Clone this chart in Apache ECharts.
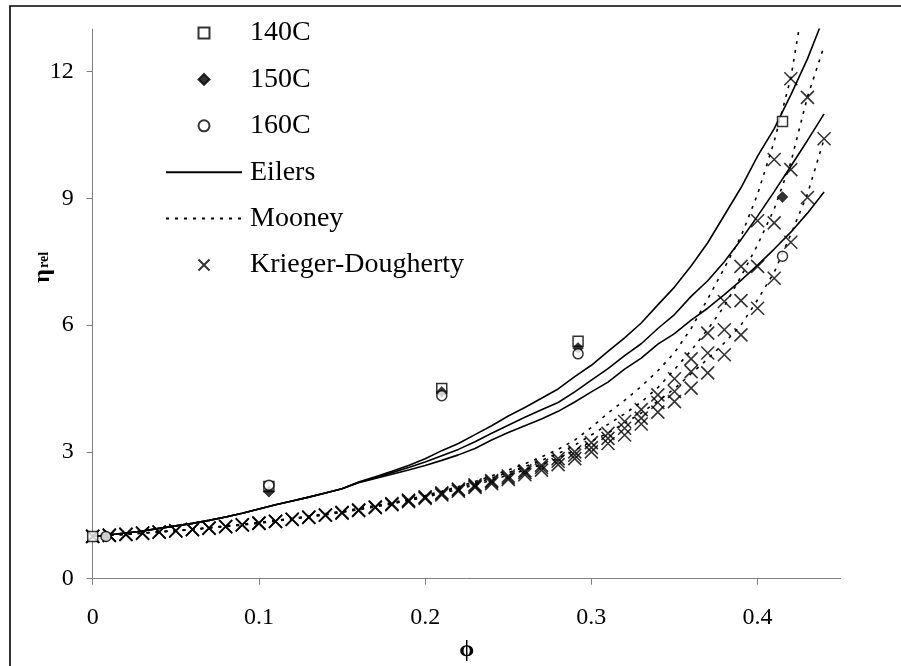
<!DOCTYPE html>
<html>
<head>
<meta charset="utf-8">
<script src="https://cdn.jsdelivr.net/npm/echarts@6/dist/echarts.min.js"></script>
<style>
  html, body { margin: 0; padding: 0; background: #fff; }
  #chart { width: 901px; height: 666px; }
</style>
</head>
<body>
<div id="chart"></div>
<script>
// Volume fraction grid used by the model curves
const PHI = [0, 0.01, 0.02, 0.03, 0.04, 0.05, 0.06, 0.07, 0.08, 0.09,
             0.10, 0.11, 0.12, 0.13, 0.14, 0.15, 0.16, 0.17, 0.18, 0.19,
             0.20, 0.21, 0.22, 0.23, 0.24, 0.25, 0.26, 0.27, 0.28, 0.29,
             0.30, 0.31, 0.32, 0.33, 0.34, 0.35, 0.36, 0.37, 0.38, 0.39,
             0.40, 0.41, 0.42, 0.43, 0.44];

// Eilers model (solid lines)
const EILERS_140 = [1.00, 1.04, 1.08, 1.13, 1.19, 1.25, 1.31, 1.38, 1.46, 1.55,
                    1.65, 1.75, 1.84, 1.93, 2.03, 2.13, 2.29, 2.41, 2.54, 2.68,
                    2.84, 3.03, 3.20, 3.41, 3.62, 3.85, 4.05, 4.27, 4.49, 4.78,
                    5.05, 5.38, 5.70, 6.05, 6.48, 6.90, 7.40, 7.95, 8.60, 9.25,
                    10.00, 10.65, 11.45, 12.30, 13.30];
const EILERS_150 = [1.00, 1.04, 1.08, 1.13, 1.19, 1.25, 1.31, 1.38, 1.46, 1.55,
                    1.65, 1.75, 1.84, 1.93, 2.03, 2.13, 2.28, 2.39, 2.51, 2.63,
                    2.76, 2.91, 3.06, 3.24, 3.44, 3.63, 3.82, 4.00, 4.17, 4.42,
                    4.70, 4.97, 5.28, 5.56, 5.92, 6.25, 6.68, 7.05, 7.50, 8.02,
                    8.58, 9.16, 9.76, 10.37, 11.00];
const EILERS_160 = [1.00, 1.04, 1.08, 1.13, 1.19, 1.25, 1.31, 1.38, 1.46, 1.55,
                    1.65, 1.75, 1.84, 1.93, 2.03, 2.13, 2.27, 2.37, 2.47, 2.57,
                    2.68, 2.80, 2.93, 3.08, 3.28, 3.46, 3.62, 3.78, 3.96, 4.18,
                    4.42, 4.65, 4.96, 5.22, 5.55, 5.80, 6.12, 6.40, 6.72, 7.06,
                    7.42, 7.80, 8.20, 8.65, 9.15];

// Mooney model (dotted lines)
const MOONEY_140 = [1.00, 1.03, 1.05, 1.08, 1.11, 1.14, 1.17, 1.21, 1.25, 1.29,
                    1.33, 1.38, 1.43, 1.48, 1.54, 1.60, 1.66, 1.73, 1.80, 1.88,
                    1.97, 2.07, 2.18, 2.30, 2.43, 2.57, 2.72, 2.88, 3.06, 3.28,
                    3.58, 3.92, 4.22, 4.55, 4.92, 5.35, 5.92, 6.62, 7.35, 8.10,
                    9.10, 10.35, 11.85, 14.20, null];
const MOONEY_150 = [1.00, 1.03, 1.05, 1.08, 1.11, 1.14, 1.17, 1.20, 1.24, 1.28,
                    1.32, 1.37, 1.42, 1.47, 1.52, 1.58, 1.64, 1.71, 1.78, 1.86,
                    1.95, 2.05, 2.15, 2.26, 2.38, 2.51, 2.65, 2.80, 2.96, 3.16,
                    3.40, 3.65, 3.90, 4.18, 4.52, 4.95, 5.40, 5.90, 6.45, 7.15,
                    7.90, 8.75, 9.85, 11.40, 12.60];
const MOONEY_160 = [1.00, 1.03, 1.05, 1.08, 1.10, 1.13, 1.16, 1.20, 1.23, 1.27,
                    1.31, 1.36, 1.41, 1.46, 1.51, 1.57, 1.63, 1.70, 1.77, 1.85,
                    1.93, 2.02, 2.12, 2.22, 2.33, 2.45, 2.57, 2.70, 2.85, 3.04,
                    3.25, 3.45, 3.68, 3.92, 4.20, 4.50, 4.85, 5.20, 5.58, 6.00,
                    6.60, 7.25, 8.15, 9.10, 10.40];

// Krieger-Dougherty model (cross markers)
const KD_140 = [1.00, 1.03, 1.05, 1.08, 1.11, 1.14, 1.17, 1.20, 1.24, 1.28,
                1.32, 1.36, 1.41, 1.46, 1.51, 1.57, 1.63, 1.70, 1.78, 1.86,
                1.94, 2.03, 2.12, 2.22, 2.32, 2.43, 2.55, 2.68, 2.84, 3.00,
                3.22, 3.44, 3.72, 4.00, 4.35, 4.73, 5.20, 5.81, 6.56, 7.39,
                8.47, 9.92, 11.83, null, null];
const KD_150 = [1.00, 1.03, 1.05, 1.08, 1.10, 1.13, 1.16, 1.20, 1.23, 1.27,
                1.31, 1.36, 1.40, 1.45, 1.50, 1.56, 1.62, 1.69, 1.76, 1.84,
                1.92, 2.01, 2.10, 2.19, 2.29, 2.39, 2.51, 2.63, 2.78, 2.92,
                3.10, 3.32, 3.56, 3.80, 4.17, 4.43, 4.90, 5.34, 5.89, 6.58,
                7.39, 8.42, 9.68, 11.39, null];
const KD_160 = [1.00, 1.02, 1.05, 1.07, 1.10, 1.13, 1.16, 1.19, 1.23, 1.27,
                1.31, 1.35, 1.40, 1.45, 1.50, 1.55, 1.61, 1.68, 1.75, 1.82,
                1.90, 1.98, 2.07, 2.16, 2.25, 2.35, 2.46, 2.57, 2.70, 2.84,
                3.00, 3.20, 3.40, 3.66, 3.94, 4.19, 4.51, 4.87, 5.30, 5.77,
                6.40, 7.11, 7.96, 9.02, 10.41];

// Measured relative viscosities
const PHI_140 = [0, 0.106, 0.21, 0.292, 0.415];
const ETA_140 = [1.00, 2.18, 4.50, 5.62, 10.82];
const PHI_150 = [0.008, 0.106, 0.21, 0.292, 0.415];
const ETA_150 = [1.00, 2.06, 4.42, 5.46, 9.03];
const PHI_160 = [0.008, 0.106, 0.21, 0.292, 0.415];
const ETA_160 = [1.00, 2.21, 4.33, 5.32, 7.63];

// Axis ticks
const X_TICKS = [0, 0.1, 0.2, 0.3, 0.4];
const Y_TICKS = [0, 3, 6, 9, 12];

const SERIF = "'Liberation Serif', 'Times New Roman', 'DejaVu Serif', serif";

function pairs(xs, ys) {
  return xs.map((x, i) => [x, ys[i]]).filter(p => p[1] != null);
}

function modelLine(name, ys, dotted) {
  return {
    name: name,
    type: 'line',
    data: pairs(PHI, ys),
    symbol: 'none',
    clip: true,
    silent: true,
    z: 2,
    itemStyle: { color: 'rgba(0,0,0,0)', borderWidth: 0 },
    lineStyle: { color: '#000', width: 1.6, type: dotted ? [3, 6] : 'solid' }
  };
}

const CROSS = 'path://M0,0L10,10M10,0L0,10';
const SQUARE = 'path://M0,0L10,0L10,10L0,10Z';
const DIAMOND = 'path://M5,0L10,5L5,10L0,5Z';

function kdSeries(ys) {
  return {
    name: 'Krieger-Dougherty',
    type: 'scatter',
    data: pairs(PHI, ys),
    symbol: CROSS,
    symbolSize: 13,
    silent: true,
    z: 3,
    itemStyle: { color: 'rgba(0,0,0,0)', borderColor: '#000', borderWidth: 1.6 }
  };
}

const chart = echarts.init(document.getElementById('chart'), null, { renderer: 'canvas' });

chart.setOption({
  animation: false,
  backgroundColor: '#fff',
  grid: { left: 92.7, right: 60.3, top: 29.3, bottom: 87.3 },
  legend: {
    orient: 'vertical',
    left: 165,
    top: 19,
    padding: 0,
    itemWidth: 76,
    itemHeight: 11,
    itemGap: 18.4,
    selectedMode: false,
    data: ['140C', '150C', '160C', 'Eilers', 'Mooney', 'Krieger-Dougherty'],
    textStyle: { fontFamily: SERIF, fontSize: 28, color: '#000', lineHeight: 28, padding: [0, 0, 0, 3] }
  },
  xAxis: {
    type: 'value',
    min: 0,
    max: 0.45,
    splitLine: { show: false },
    axisLine: { onZero: false, lineStyle: { color: '#808080', width: 1 } },
    axisTick: { show: true, length: 6, customValues: X_TICKS, lineStyle: { color: '#808080' } },
    axisLabel: { customValues: X_TICKS, margin: 27, fontFamily: SERIF, fontSize: 24, color: '#000' }
  },
  yAxis: {
    type: 'value',
    min: 0,
    max: 13,
    splitLine: { show: false },
    axisLine: { show: true, onZero: false, lineStyle: { color: '#808080', width: 1 } },
    axisTick: { show: true, length: 6, customValues: Y_TICKS, lineStyle: { color: '#808080' } },
    axisLabel: { customValues: Y_TICKS, margin: 19, fontFamily: SERIF, fontSize: 24, color: '#000' }
  },
  graphic: [
    {
      type: 'rect',
      silent: true,
      shape: { x: 10, y: 6, width: 900, height: 700 },
      style: { fill: 'none', stroke: '#000', lineWidth: 1.6 }
    },
    {
      type: 'text',
      silent: true,
      x: 43, y: 276,
      rotation: Math.PI / 2,
      style: { text: 'η', font: "bold 24px " + SERIF, fill: '#000', align: 'center', verticalAlign: 'middle' }
    },
    {
      type: 'text',
      silent: true,
      x: 44, y: 260,
      rotation: Math.PI / 2,
      style: { text: 'rel', font: "bold 14px " + SERIF, fill: '#000', align: 'center', verticalAlign: 'middle' }
    },
    {
      type: 'text',
      silent: true,
      x: 466.7, y: 650,
      style: { text: 'ϕ', font: "bold 24px " + SERIF, fill: '#000', align: 'center', verticalAlign: 'middle' }
    }
  ],
  series: [
    modelLine('Eilers', EILERS_140, false),
    modelLine('Eilers', EILERS_150, false),
    modelLine('Eilers', EILERS_160, false),
    modelLine('Mooney', MOONEY_140, true),
    modelLine('Mooney', MOONEY_150, true),
    modelLine('Mooney', MOONEY_160, true),
    kdSeries(KD_140),
    kdSeries(KD_150),
    kdSeries(KD_160),
    {
      name: '140C', type: 'scatter', data: pairs(PHI_140, ETA_140),
      symbol: SQUARE, symbolSize: 10, silent: true, z: 5,
      itemStyle: { color: '#fff', borderColor: '#000', borderWidth: 1.5 }
    },
    {
      name: '150C', type: 'scatter', data: pairs(PHI_150, ETA_150),
      symbol: DIAMOND, symbolSize: 11, silent: true, z: 5,
      itemStyle: { color: '#000', borderColor: '#000', borderWidth: 0.5 }
    },
    {
      name: '160C', type: 'scatter', data: pairs(PHI_160, ETA_160),
      symbol: 'circle', symbolSize: 10, silent: true, z: 5,
      itemStyle: { color: '#fff', borderColor: '#000', borderWidth: 1.5 }
    }
  ]
});
</script>
</body>
</html>
